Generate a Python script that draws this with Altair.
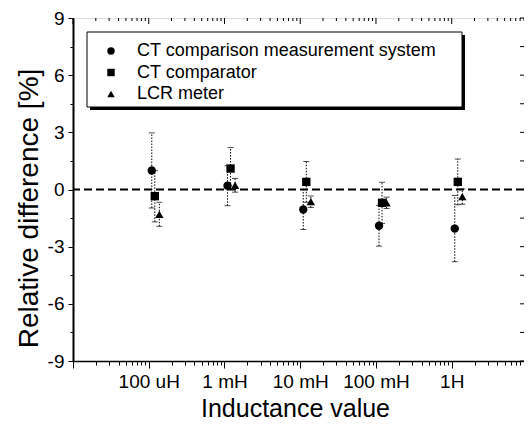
import math
import altair as alt
import pandas as pd

# ---- data ----
inductance_labels = ["100 uH", "1 mH", "10 mH", "100 mH", "1H"]
inductance_h = [1e-4, 1e-3, 1e-2, 1e-1, 1.0]
series_names = ["CT comparison measurement system", "CT comparator", "LCR meter"]

ct_system = [1.0, 0.2, -1.05, -1.9, -2.05]
ct_system_err = [1.97, 1.05, 1.05, 1.07, 1.74]
ct_comparator = [-0.35, 1.1, 0.4, -0.7, 0.4]
ct_comparator_err = [1.35, 1.1, 1.07, 1.08, 1.2]
lcr_meter = [-1.3, 0.22, -0.64, -0.7, -0.37]
lcr_meter_err = [0.63, 0.36, 0.3, 0.3, 0.4]

# small horizontal dodge of each series (in decades) as in the figure
dodge_decades = [0.04, 0.08, 0.14]

y_major = [-9, -6, -3, 0, 3, 6, 9]
y_minor = [-7.5, -4.5, -1.5, 1.5, 4.5, 7.5]
y_right = [-9 + 1.5 * i for i in range(13)]

x_min, x_max = 1e-5, 9.0
decades = [1e-5, 1e-4, 1e-3, 1e-2, 1e-1, 1.0]
minor = [m * d for d in decades for m in range(2, 10) if m * d <= x_max + 1e-9]

rows = []
for name, vals, errs, dodge in zip(
    series_names,
    [ct_system, ct_comparator, lcr_meter],
    [ct_system_err, ct_comparator_err, lcr_meter_err],
    dodge_decades,
):
    for lab, h, v, e in zip(inductance_labels, inductance_h, vals, errs):
        rows.append(dict(series=name, label=lab, x=h * 10 ** dodge, y=v, lo=v - e, hi=v + e))
df = pd.DataFrame(rows)

FONT = "Liberation Sans"
W, H = 451, 343

xscale = alt.Scale(type="log", domain=[x_min, x_max], nice=False)
yscale = alt.Scale(domain=[-9, 9], nice=False, zero=False)

# label expression for the decade ticks
expr = "''"
for h, lab in reversed(list(zip(inductance_h, inductance_labels))):
    expr = f"abs(log(datum.value)/LN10 - ({math.log10(h)})) < 0.01 ? '{lab}' : " + expr

base = alt.Chart(df)

# axis carrier layers (invisible points)
ax_main = base.mark_point(opacity=0).encode(
    x=alt.X("x:Q", scale=xscale, axis=alt.Axis(
        orient="bottom", values=decades, tickSize=7, tickColor="black", tickWidth=1,
        labelExpr=expr, labelFontSize=19, labelFont=FONT, labelColor="black",
        labelPadding=4, labelFlush=False, labelOverlap=False,
        domain=True, domainColor="black", domainWidth=1.5, grid=False,
        title="Inductance value", titleFontSize=25, titleFont=FONT, titleFontWeight="normal",
        titleColor="black", titleX=222, titleY=55, titleAlign="center", titleBaseline="alphabetic")),
    y=alt.Y("y:Q", scale=yscale, axis=alt.Axis(
        orient="left", values=y_major, tickSize=5, tickColor="black", tickWidth=1,
        labelExpr="'' + datum.value", labelFontSize=19, labelFont=FONT, labelColor="black",
        labelPadding=4, labelFlush=False, labelOverlap=False,
        domain=True, domainColor="black", domainWidth=2, grid=False,
        title="Relative difference [%]", titleFontSize=28, titleFont=FONT, titleFontWeight="normal",
        titleColor="black", titleX=-36, titleY=190, titleAlign="center", titleBaseline="alphabetic")),
)

ax_minor = base.mark_point(opacity=0).encode(
    x=alt.X("x:Q", scale=xscale, axis=alt.Axis(
        orient="bottom", values=minor, tickSize=4, tickColor="black", tickWidth=1,
        labels=False, domain=False, grid=False, title=None)),
    y=alt.Y("y:Q", scale=yscale, axis=alt.Axis(
        orient="left", values=y_minor, tickSize=3, tickColor="black", tickWidth=1,
        labels=False, domain=False, grid=False, title=None)),
)

# mirrored inward ticks on the top and right edges
top_major = alt.Chart(pd.DataFrame({"t": decades})).mark_rule(color="black", strokeWidth=1).encode(
    x=alt.X("t:Q", scale=xscale, axis=None), y=alt.value(0), y2=alt.value(6))
top_minor = alt.Chart(pd.DataFrame({"t": minor})).mark_rule(color="black", strokeWidth=1).encode(
    x=alt.X("t:Q", scale=xscale, axis=None), y=alt.value(0), y2=alt.value(3))
right_ticks = alt.Chart(pd.DataFrame({"t": y_right})).mark_rule(color="black", strokeWidth=1).encode(
    y=alt.Y("t:Q", scale=yscale, axis=None), x=alt.value(W - 4), x2=alt.value(W))

zero_line = alt.Chart(pd.DataFrame({"zero": [0]})).mark_rule(
    color="black", strokeWidth=2, strokeDash=[8, 4]
).encode(y=alt.Y("zero:Q", scale=yscale, axis=None))

err_bars = base.mark_rule(color="black", strokeWidth=1, strokeDash=[1.5, 1.5]).encode(
    x=alt.X("x:Q", scale=xscale, axis=None),
    y=alt.Y("lo:Q", scale=yscale, axis=None),
    y2="hi:Q",
)
cap_lo = base.mark_tick(orient="horizontal", size=6, thickness=1, color="black").encode(
    x=alt.X("x:Q", scale=xscale, axis=None),
    y=alt.Y("lo:Q", scale=yscale, axis=None),
)
cap_hi = base.mark_tick(orient="horizontal", size=6, thickness=1, color="black").encode(
    x=alt.X("x:Q", scale=xscale, axis=None),
    y=alt.Y("hi:Q", scale=yscale, axis=None),
)

box_df = pd.DataFrame({"a": [0]})
legend_shadow = alt.Chart(box_df).mark_rect(fill="black").encode(
    x=alt.value(17), x2=alt.value(392), y=alt.value(17), y2=alt.value(92)
)
legend_box = alt.Chart(box_df).mark_rect(fill="white", stroke="black", strokeWidth=1).encode(
    x=alt.value(14), x2=alt.value(389), y=alt.value(14), y2=alt.value(89)
)

points = base.mark_point(filled=True, color="black", opacity=1, size=70).encode(
    x=alt.X("x:Q", scale=xscale, axis=None),
    y=alt.Y("y:Q", scale=yscale, axis=None),
    shape=alt.Shape("series:N", scale=alt.Scale(domain=series_names,
                                                range=["circle", "square", "triangle-up"]),
                    legend=alt.Legend(
                        orient="none", legendX=29, legendY=24, title=None,
                        symbolSize=55, symbolFillColor="black", symbolStrokeColor="black",
                        labelFontSize=18, labelFont=FONT,
                        labelColor="black", labelOffset=17, rowPadding=3.5, padding=0,
                        labelLimit=400)),
)

chart = alt.layer(
    ax_main, ax_minor, top_major, top_minor, right_ticks,
    zero_line, err_bars, cap_lo, cap_hi,
    legend_shadow, legend_box, points,
).resolve_axis(x="independent", y="independent").properties(
    width=W, height=H,
    autosize=alt.AutoSizeParams(type="none"),
    padding={"left": 65, "top": 10, "right": 0, "bottom": 61},
).configure_view(stroke="black", strokeWidth=1.5).configure(background="white")

chart.save("out.html", embed_options={"renderer": "svg", "actions": False})
